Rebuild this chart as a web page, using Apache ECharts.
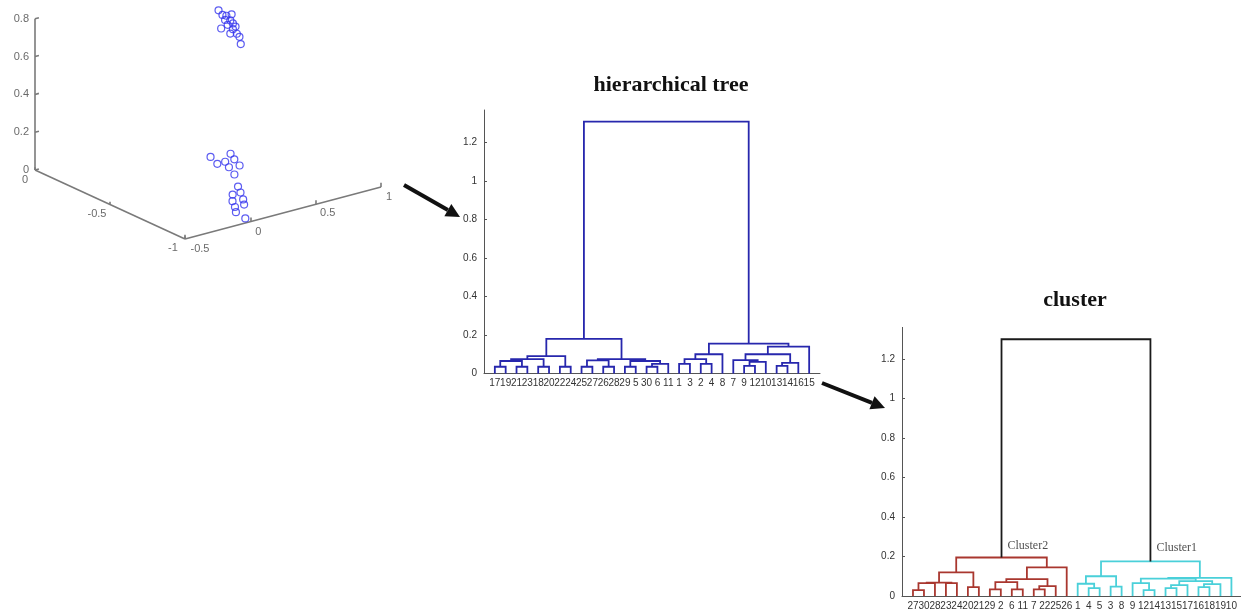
<!DOCTYPE html>
<html>
<head>
<meta charset="utf-8">
<script src="https://cdn.jsdelivr.net/npm/echarts@6/dist/echarts.min.js"></script>
<style>
  html, body { margin: 0; padding: 0; background: #fff; }
  #main { width: 1241px; height: 613px; }
</style>
</head>
<body>
<div id="main"></div>
<script>
// 3D scatter: two groups of samples (x, y, z)
const scatterX = [-0.3, -0.3, -0.3, -0.3, -0.3, -0.3, -0.3, -0.3, -0.3, -0.3, -0.3, -0.3, -0.3, -0.3, -0.3,
    -0.36, -0.44, -0.38, -0.44, -0.44, -0.51, -0.50, -0.58, -0.70, -0.76, -0.76, -0.82, -0.83, -0.88, -0.88, -0.93, -1.01];
const scatterY = [0.56, 0.59, 0.62, 0.65, 0.67, 0.63, 0.69, 0.67, 0.58, 0.65, 0.70, 0.72, 0.73, 0.61, 0.66,
    0.43, 0.39, 0.56, 0.52, 0.45, 0.48, 0.41, 0.36, 0.25, 0.20, 0.14, 0.07, 0.14, 0.09, 0.02, -0.03, -0.05];
const scatterZ = [0.76, 0.73, 0.72, 0.69, 0.67, 0.67, 0.65, 0.64, 0.66, 0.62, 0.61, 0.59, 0.55, 0.70, 0.72,
    0.03, 0.03, 0.03, 0.03, 0.03, 0.03, 0.03, 0.03, 0.03, 0.03, 0.03, 0.03, 0.03, 0.03, 0.03, 0.03, 0.03];
const xTicks3d = [0, -0.5, -1];
const yTicks3d = [-0.5, 0, 0.5, 1];
const zTicks3d = [0, 0.2, 0.4, 0.6, 0.8];

// hierarchical tree: leaf order and merges [left node, right node, height]
const treeLeaves = ['17', '19', '21', '23', '18', '20', '22', '24', '25', '27', '26', '28', '29', '5', '30', '6', '11',
    '1', '3', '2', '4', '8', '7', '9', '12', '10', '13', '14', '16', '15'];
const treeMerges = [
    [0, 1, 0.035], [2, 3, 0.035], [4, 5, 0.035], [6, 7, 0.035],
    [30, 31, 0.065], [34, 32, 0.075], [35, 33, 0.09],
    [8, 9, 0.035], [10, 11, 0.035], [12, 13, 0.035], [14, 15, 0.035],
    [40, 16, 0.05], [39, 41, 0.065], [37, 38, 0.068], [43, 42, 0.075],
    [36, 44, 0.18],
    [17, 18, 0.05], [19, 20, 0.05], [46, 47, 0.075], [48, 21, 0.10],
    [23, 24, 0.04], [50, 25, 0.06], [22, 51, 0.07],
    [26, 27, 0.04], [53, 28, 0.055], [52, 54, 0.10], [55, 29, 0.14],
    [49, 56, 0.155],
    [45, 57, 1.31]
];

// cluster tree
const clusterLeaves = ['27', '30', '28', '23', '24', '20', '21', '29', '2', '6', '11', '7', '22', '25', '26',
    '1', '4', '5', '3', '8', '9', '12', '14', '13', '15', '17', '16', '18', '19', '10'];
const clusterMerges = [
    [0, 1, 0.03], [30, 2, 0.065], [3, 4, 0.065], [31, 32, 0.068], [5, 6, 0.045], [33, 34, 0.12],
    [7, 8, 0.034], [9, 10, 0.034], [36, 37, 0.07], [11, 12, 0.034], [39, 13, 0.05], [38, 40, 0.085],
    [41, 14, 0.145], [35, 42, 0.195],
    [16, 17, 0.04], [15, 44, 0.062], [18, 19, 0.047], [45, 46, 0.10],
    [21, 22, 0.03], [20, 48, 0.065], [23, 24, 0.04], [50, 25, 0.055], [26, 27, 0.045], [52, 28, 0.06],
    [51, 53, 0.075], [49, 54, 0.088], [55, 29, 0.092], [47, 56, 0.175],
    [43, 57, 1.30]
];
const clusterNames = ['Cluster2', 'Cluster1'];
const clusterColors = ['#a9372f', '#4ad0d9'];

function project(x, y, z) {
    return [-150 * x + 130.7 * (y + 0.5), 69 * x + 34.7 * (y + 0.5) + 189 * z];
}

function buildTree(leaves, merges) {
    const xs = leaves.map((_, i) => i + 1);
    const hs = leaves.map(() => 0);
    const segs = [];
    merges.forEach(m => {
        const a = m[0], b = m[1], h = m[2];
        segs.push([[xs[a], hs[a]], [xs[a], h], [xs[b], h], [xs[b], hs[b]]]);
        xs.push((xs[a] + xs[b]) / 2);
        hs.push(h);
    });
    return { xs: xs, hs: hs, segs: segs };
}

const tree1 = buildTree(treeLeaves, treeMerges);
const tree2 = buildTree(clusterLeaves, clusterMerges);

// colour the cluster tree: root black, each root branch its own colour
const nLeaf = clusterLeaves.length;
const nodeColor = [];
const rootMerge = clusterMerges[clusterMerges.length - 1];
nodeColor[nLeaf + clusterMerges.length - 1] = '#1a1a1a';
nodeColor[rootMerge[0]] = clusterColors[0];
nodeColor[rootMerge[1]] = clusterColors[1];
for (let k = clusterMerges.length - 2; k >= 0; k--) {
    const id = nLeaf + k;
    nodeColor[clusterMerges[k][0]] = nodeColor[id];
    nodeColor[clusterMerges[k][1]] = nodeColor[id];
}

// 3D axes
const axisSegs = [
    [project(0, -0.5, 0), project(0, -0.5, 0.8)],
    [project(0, -0.5, 0), project(-1, -0.5, 0)],
    [project(-1, -0.5, 0), project(-1, 1, 0)]
];
zTicks3d.forEach(z => axisSegs.push([project(0, -0.5, z), project(0, -0.47, z)]));
xTicks3d.forEach(x => axisSegs.push([project(x, -0.5, 0), project(x, -0.5, 0.015)]));
yTicks3d.forEach(y => axisSegs.push([project(-1, y, 0), project(-1, y, 0.022)]));

const axisLabels3d = [];
zTicks3d.forEach(z => axisLabels3d.push({ value: project(0, -0.5, z), name: String(z),
    label: { position: 'left', distance: 6 } }));
const xOffsets = [[-10, 10], [-13, 9], [-12, 9]];
xTicks3d.forEach((x, i) => axisLabels3d.push({ value: project(x, -0.5, 0), name: String(x),
    label: { position: 'inside', offset: xOffsets[i] } }));
const yOffsets = [[15, 10], [8, 10], [12, 9], [8, 10]];
yTicks3d.forEach((y, i) => axisLabels3d.push({ value: project(-1, y, 0), name: String(y),
    label: { position: 'inside', offset: yOffsets[i] } }));

function arrow(x1, y1, x2, y2) {
    const ang = Math.atan2(y2 - y1, x2 - x1);
    const len = 14, wid = 7;
    const bx = x2 - len * Math.cos(ang), by = y2 - len * Math.sin(ang);
    return [
        { type: 'line', shape: { x1: x1, y1: y1, x2: bx, y2: by }, style: { stroke: '#111', lineWidth: 4 } },
        { type: 'polygon', shape: { points: [[x2, y2],
            [bx + wid * Math.sin(ang), by - wid * Math.cos(ang)],
            [bx - wid * Math.sin(ang), by + wid * Math.cos(ang)]] }, style: { fill: '#111' } }
    ];
}

function dendroYAxis(gridIndex, max) {
    return {
        type: 'value', gridIndex: gridIndex, min: 0, max: max, interval: 0.2,
        axisLine: { show: true, lineStyle: { color: '#555', width: 1 } },
        axisTick: { show: true, inside: true, length: 3, lineStyle: { color: '#555' } },
        axisLabel: { show: true, color: '#333', fontSize: 10, margin: 7, showMaxLabel: false,
            fontFamily: 'Liberation Sans' },
        splitLine: { show: false }
    };
}

function dendroXAxis(gridIndex, leaves) {
    return {
        type: 'value', gridIndex: gridIndex, min: 0, max: leaves.length + 1, interval: 1,
        axisLine: { show: true, lineStyle: { color: '#555', width: 1 } },
        axisTick: { show: false },
        axisLabel: { show: true, color: '#333', fontSize: 10, margin: 5, fontFamily: 'Liberation Sans',
            formatter: v => leaves[v - 1] || '' },
        splitLine: { show: false }
    };
}

const chart = echarts.init(document.getElementById('main'));
const option = {
    animation: false,
    backgroundColor: '#fff',
    grid: [
        { left: 0, top: 0, width: 410, height: 260, outerBoundsMode: 'none' },
        { left: 484, top: 110, width: 336, height: 263.5, outerBoundsMode: 'none' },
        { left: 902, top: 327.4, width: 340.4, height: 268.6, outerBoundsMode: 'none' }
    ],
    xAxis: [
        { type: 'value', gridIndex: 0, min: -35, max: 375, show: false },
        dendroXAxis(1, treeLeaves),
        dendroXAxis(2, clusterLeaves)
    ],
    yAxis: [
        { type: 'value', gridIndex: 0, min: -90, max: 170, show: false },
        dendroYAxis(1, 1.37),
        dendroYAxis(2, 1.36)
    ],
    graphic: [
        { type: 'text', x: 671, y: 85, style: { text: 'hierarchical tree', font: 'bold 22px "Liberation Serif"',
            fill: '#111', align: 'center', verticalAlign: 'middle' } },
        { type: 'text', x: 1075, y: 300, style: { text: 'cluster', font: 'bold 22px "Liberation Serif"',
            fill: '#111', align: 'center', verticalAlign: 'middle' } }
    ].concat(arrow(404, 185, 460, 217), arrow(822, 383, 885, 408)),
    series: [
        {
            type: 'lines', coordinateSystem: 'cartesian2d', xAxisIndex: 0, yAxisIndex: 0,
            polyline: false, silent: true,
            lineStyle: { color: '#7a7a7a', width: 1.6, opacity: 1 },
            data: axisSegs.map(s => ({ coords: s }))
        },
        {
            type: 'scatter', xAxisIndex: 0, yAxisIndex: 0, silent: true,
            symbolSize: 0,
            label: { show: true, formatter: '{b}', color: '#444', fontSize: 11, fontFamily: 'Liberation Sans' },
            data: axisLabels3d
        },
        {
            type: 'scatter', xAxisIndex: 0, yAxisIndex: 0, silent: true,
            symbol: 'circle', symbolSize: 7,
            itemStyle: { color: 'rgba(0,0,0,0)', borderColor: '#3535ee', borderWidth: 1.2 },
            data: scatterX.map((x, i) => project(x, scatterY[i], scatterZ[i]))
        },
        {
            type: 'lines', coordinateSystem: 'cartesian2d', xAxisIndex: 1, yAxisIndex: 1,
            polyline: true, silent: true,
            lineStyle: { color: '#2727ad', width: 1.8, opacity: 1 },
            data: tree1.segs.map(s => ({ coords: s }))
        },
        {
            type: 'lines', coordinateSystem: 'cartesian2d', xAxisIndex: 2, yAxisIndex: 2,
            polyline: true, silent: true,
            lineStyle: { width: 1.8, opacity: 1 },
            data: tree2.segs.map((s, k) => ({ coords: s, lineStyle: { color: nodeColor[nLeaf + k] } }))
        },
        {
            type: 'scatter', xAxisIndex: 2, yAxisIndex: 2, silent: true, symbolSize: 0,
            label: { show: true, formatter: '{b}', color: '#222', fontSize: 12, fontFamily: 'Liberation Serif',
                position: 'right', distance: 6 },
            data: [
                { name: clusterNames[0], value: [tree2.xs[rootMerge[0]], tree2.hs[rootMerge[0]]], label: { offset: [0, -12] } },
                { name: clusterNames[1], value: [tree2.xs[rootMerge[1]], tree2.hs[rootMerge[1]]], label: { offset: [0, -14] } }
            ]
        }
    ]
};
chart.setOption(option);
</script>
</body>
</html>
